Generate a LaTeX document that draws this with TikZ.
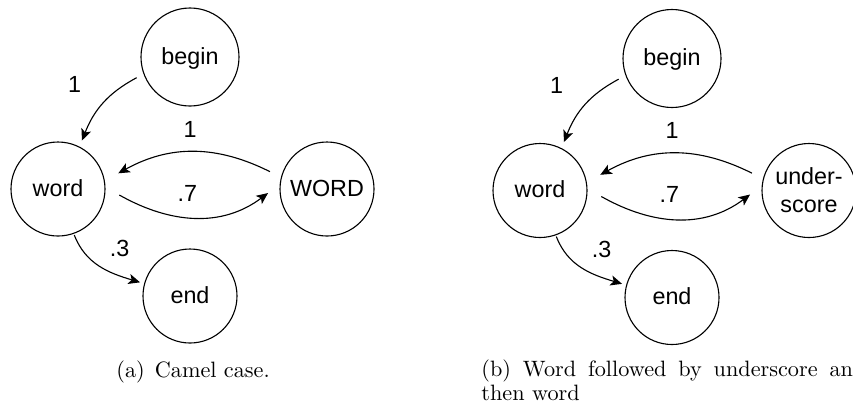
\documentclass[tikz,border=0pt]{standalone}
\usepackage{fontspec}
\newfontfamily\arialf{Liberation Sans}
\usetikzlibrary{arrows.meta,calc}
\tikzset{
  st/.style={circle,draw,line width=0.5pt,inner sep=0pt,minimum size=42.3pt,
    font=\arialf\fontsize{10.5}{12.7}\selectfont,text height=7.5pt,text depth=1.2pt},
  bigst/.style={st,minimum size=44.1pt},
  lbl/.style={inner sep=0pt,font=\arialf\fontsize{10.5}{12.7}\selectfont},
  edge/.style={line width=0.5pt,-{Stealth[length=5.2pt,width=4.6pt,inset=1.3pt]}},
  capstyle/.style={inner sep=0pt,anchor=base west,font=\fontsize{10}{10.8}\selectfont}
}
\newcommand\mypanel[4]{%
\begin{scope}[shift={(#2)}]
  \node[bigst] (#1b) at (190,-57) {begin};
  \node[st] (#1w) at (58,-189) {word};
  \node[st,#4] (#1r) at (327,-189) {#3};
  \node[st] (#1e) at (190,-296) {end};
  \draw[edge] ($(#1b)+(201.2:57.2)$) to[out=208,in=68.5] ($(#1w)+(63.7:54.1)$);
  \draw[edge] ($(#1r)+(163.1:59.6)$) to[out=153.4,in=29] ($(#1w)+(14.6:62.3)$);
  \draw[edge] ($(#1w)+(-5.6:61.6)$) to[out=-29.4,in=216.9] ($(#1r)+(183.9:59.1)$);
  \draw[edge] ($(#1w)+(-70.5:48.8)$) to[out=-69,in=163.3] ($(#1e)+(164.7:51.8)$);
  \node[lbl] (#1la) at (74.5,-84) {1};
  \node[lbl] (#1lb) at (190,-129) {1};
  \node[lbl] (#1lc) at (187.3,-193.3) {.7};
  \node[lbl] (#1ld) at (119.7,-248) {.3};
\end{scope}}
\begin{document}
\begin{tikzpicture}[x=0.45pt,y=0.45pt]
  \useasboundingbox (0,0) rectangle (853,-405);
  \mypanel{a}{0,0}{WORD}{}
  \mypanel{p}{482,-1.5}{under-\\score}{align=center,text height=,text depth=}
  \node[capstyle] (capa) at (116,-377.3) {(a)\hspace{4.5pt}Camel case.};
  \node[capstyle,align=left] (capb) at (481,-400.7)
    {\makebox[167.2pt][s]{(b) Word followed by underscore an}\\then word};
\end{tikzpicture}
\end{document}
